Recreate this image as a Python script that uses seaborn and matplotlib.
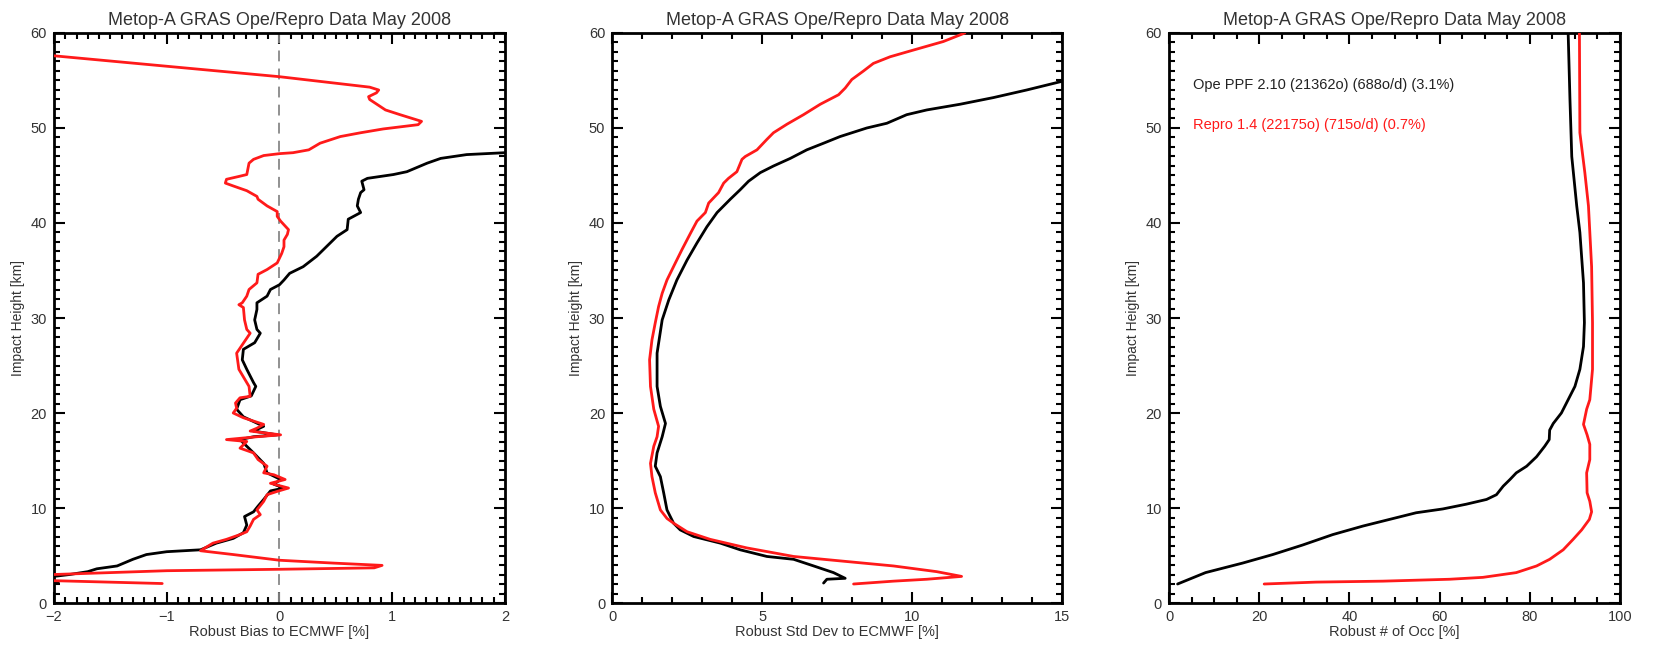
import numpy as np
import pandas as pd
import matplotlib
matplotlib.use("Agg")
import matplotlib.pyplot as plt
from matplotlib.ticker import MultipleLocator
import seaborn as sns

# ---------------- data ----------------
TITLE = "Metop-A GRAS Ope/Repro Data May 2008"
YLABEL = "Impact Height [km]"
XLABELS = ["Robust Bias to ECMWF [%]", "Robust Std Dev to ECMWF [%]", "Robust # of Occ [%]"]
LEGEND_OPE = "Ope PPF 2.10 (21362o) (688o/d) (3.1%)"
LEGEND_REPRO = "Repro 1.4 (22175o) (715o/d) (0.7%)"

# Panel 1: bias
bias_repro_x = [-2.0, 0.0, 0.80, 0.88, 0.86, 0.79, 0.80, 0.94, 1.07, 1.26, 1.23, 0.92, 0.72, 0.54, 0.36, 0.26, 0.12,
                0.0, -0.14, -0.23, -0.27, -0.29, -0.36, -0.47, -0.48, -0.41, -0.29, -0.20, -0.19, -0.11, -0.02,
                -0.02, 0.01, 0.08, 0.07, 0.04, 0.04, 0.02, -0.02, -0.11, -0.19, -0.20, -0.27, -0.29, -0.33, -0.36,
                -0.32, -0.31, -0.29,
                -0.26, -0.38, -0.36, -0.27, -0.26, -0.35, -0.39, -0.38, -0.41, -0.32, -0.14, -0.20, -0.26, 0.01,
                -0.20, -0.47, -0.29, -0.35, -0.23, -0.19, -0.11, -0.14, -0.05, 0.05, -0.08, 0.08, -0.02, -0.11,
                -0.14, -0.20, -0.17, -0.23, -0.26, -0.29, -0.35, -0.47, -0.59, -0.66, -0.70, -0.41, 0.0, 0.48,
                0.91, 0.84, 0.0, -1.0, -2.0, -2.6, -2.0, -1.04]
bias_repro_h = [57.6, 55.4, 54.3, 54.0, 53.7, 53.3, 53.0, 51.9, 51.4, 50.7, 50.35, 49.9, 49.5, 49.1, 48.4, 47.7, 47.4,
                47.3, 47.1, 46.7, 46.3, 45.1, 44.9, 44.6, 44.2, 43.9, 43.4, 42.8, 42.5, 41.8, 41.2,
                40.7, 40.2, 39.3, 38.8, 38.2, 37.5, 36.8, 35.8, 35.1, 34.6, 33.7, 33.0, 32.3, 31.6, 31.4,
                31.1, 29.8, 28.8,
                28.4, 26.3, 24.6, 22.8, 21.75, 21.6, 21.05, 20.5, 20.0, 19.5, 18.8, 18.4, 18.1, 17.7,
                17.5, 17.2, 17.0, 16.3, 15.8, 15.1, 14.4, 13.7, 13.5, 13.0, 12.6, 12.1, 11.75, 11.4,
                10.7, 9.8, 9.3, 8.8, 8.1, 7.5, 7.2, 6.7, 6.3, 5.8, 5.5, 5.1, 4.5, 4.2,
                3.96, 3.7, 3.55, 3.4, 3.0, 2.7, 2.35, 2.05]
bias_ope_x = [2.3, 2.0, 1.66, 1.43, 1.31, 1.13, 1.01, 0.78, 0.73, 0.75, 0.72, 0.70, 0.69, 0.72, 0.61, 0.60, 0.51,
              0.45, 0.33, 0.21, 0.09, 0.04, 0.0, -0.08, -0.11, -0.20, -0.20, -0.22, -0.20, -0.17, -0.22, -0.32,
              -0.33, -0.29, -0.23, -0.21, -0.25, -0.35, -0.38, -0.32, -0.14, -0.23, -0.02, -0.23, -0.35, -0.29,
              -0.23, -0.14, -0.11, 0.01, -0.05, 0.04, -0.08, -0.14, -0.19, -0.23, -0.31, -0.29, -0.32, -0.41,
              -0.56, -0.70, -1.0, -1.18, -1.30, -1.44, -1.62, -1.70, -1.86, -2.0, -2.4, -1.96]
bias_ope_h = [47.5, 47.4, 47.2, 46.8, 46.3, 45.4, 45.1, 44.7, 44.4, 43.5, 43.2, 42.5, 41.8, 41.1, 40.4, 39.3, 38.6,
              37.9, 36.5, 35.4, 34.7, 34.0, 33.5, 33.0, 32.3, 31.6, 30.9, 29.8, 28.8, 28.4, 27.4, 26.7,
              25.6, 24.6, 23.2, 22.8, 21.8, 21.4, 20.4, 19.6, 18.6, 18.1, 17.7, 17.5, 17.2, 16.5,
              15.8, 14.7, 13.7, 13.0, 12.5, 12.1, 11.8, 10.9, 10.2, 9.6, 9.1, 8.2, 7.4, 6.8,
              6.3, 5.6, 5.4, 5.1, 4.6, 3.9, 3.6, 3.3, 3.0, 2.8, 2.5, 2.1]

# Panel 2: standard deviation
std_repro_x = [11.76, 11.04, 10.04, 9.27, 8.71, 8.38, 7.99, 7.77, 7.55, 6.94, 6.38, 5.83, 5.38, 5.16, 4.83, 4.44,
               4.33, 4.16, 3.88, 3.72, 3.55, 3.22, 3.11, 2.83, 2.61, 2.33, 2.11, 1.83, 1.67, 1.55, 1.44,
               1.33, 1.25, 1.28, 1.39, 1.55, 1.50, 1.39, 1.28, 1.33, 1.44, 1.61, 1.83, 2.05, 2.50, 3.27, 4.49,
               6.05, 7.71, 9.38, 10.82, 11.65, 10.49, 9.38, 8.05]
std_repro_h = [60.0, 59.1, 58.2, 57.5, 56.8, 56.0, 55.1, 54.2, 53.5, 52.5, 51.4, 50.4, 49.5, 48.8, 47.7, 47.0,
               46.7, 45.4, 44.7, 44.2, 43.2, 42.1, 41.1, 40.2, 38.9, 37.2, 35.8, 34.0, 32.6, 31.2, 29.5,
               27.7, 25.6, 22.8, 20.4, 18.6, 17.5, 16.5, 14.7, 13.3, 11.6, 9.8, 8.9, 8.4, 7.5, 6.7, 5.8,
               4.9, 4.4, 3.9, 3.3, 2.8, 2.5, 2.3, 2.0]
std_ope_x = [15.5, 14.98, 13.82, 12.71, 11.60, 10.49, 9.82, 9.16, 8.49, 7.60, 7.05, 6.49, 5.94, 5.38, 4.94, 4.55,
             4.27, 3.94, 3.50, 3.16, 2.83, 2.50, 2.16, 1.89, 1.67, 1.50, 1.50, 1.61, 1.78, 1.67, 1.50, 1.44,
             1.61, 1.72, 1.83, 2.05, 2.27, 2.72, 3.61, 4.27, 5.16, 6.05, 6.72, 7.38, 7.77, 7.16, 7.05]
std_ope_h = [56.0, 54.9, 54.0, 53.2, 52.5, 51.9, 51.4, 50.5, 50.0, 49.1, 48.4, 47.7, 46.8, 46.0, 45.3, 44.4,
             43.5, 42.5, 41.1, 39.6, 37.9, 36.1, 34.0, 31.9, 29.8, 26.3, 22.8, 20.7, 18.9, 17.5, 15.8, 14.4,
             13.3, 11.6, 9.8, 8.4, 7.7, 7.0, 6.3, 5.6, 4.9, 4.6, 3.9, 3.2, 2.6, 2.5, 2.1]

# Panel 3: number of occultations
occ_ope_x = [88.5, 88.9, 89.3, 90.4, 91.1, 91.9, 92.1, 91.9, 91.1, 90.0, 88.5, 87.0, 85.2, 84.4, 84.3, 83.3,
             81.5, 79.3, 77.0, 75.6, 74.1, 72.6, 70.4, 65.9, 60.7, 54.8, 48.9, 43.0, 36.3, 29.6, 23.0, 16.3,
             8.1, 1.9]
occ_ope_h = [60.0, 53.0, 47.0, 41.8, 39.0, 33.7, 29.5, 27.0, 24.6, 22.8, 21.4, 20.0, 18.9, 18.2, 17.2, 16.5,
             15.4, 14.4, 13.7, 13.0, 12.3, 11.4, 10.9, 10.4, 9.9, 9.5, 8.8, 8.1, 7.2, 6.1, 5.1, 4.2,
             3.2, 2.0]
occ_repro_x = [91.0, 91.1, 92.2, 93.0, 93.7, 93.9, 93.9, 93.3, 92.6, 91.9, 92.7, 93.3, 93.3, 92.6, 92.7, 93.3,
               93.7, 93.2, 91.5, 89.6, 87.4, 84.4, 81.5, 77.0, 69.6, 62.2, 47.4, 32.6, 21.1]
occ_repro_h = [60.0, 49.5, 45.3, 41.8, 35.4, 29.5, 24.6, 21.4, 20.4, 18.8, 17.7, 16.7, 15.1, 13.7, 11.6, 10.7,
               9.6, 8.8, 7.7, 6.7, 5.6, 4.6, 3.9, 3.2, 2.7, 2.5, 2.3, 2.2, 2.0]

# ---------------- styling ----------------
sns.set_theme(style="white")
plt.rcParams["font.family"] = ["Liberation Sans", "DejaVu Sans"]
TXT = "#333333"
RED = "#ff1a1a"

fig = plt.figure(figsize=(16.76, 6.47), dpi=100)
positions = [[0.0322, 0.068, 0.2691, 0.881],
             [0.3652, 0.068, 0.2685, 0.881],
             [0.6975, 0.068, 0.2691, 0.881]]
panels = [
    (bias_ope_x, bias_ope_h, bias_repro_x, bias_repro_h, (-2, 2), 1, 0.1),
    (std_ope_x, std_ope_h, std_repro_x, std_repro_h, (0, 15), 5, 1),
    (occ_ope_x, occ_ope_h, occ_repro_x, occ_repro_h, (0, 100), 20, 5),
]

for i, (ox, oh, rx, rh, xlim, xmaj, xmin) in enumerate(panels):
    ax = fig.add_axes(positions[i])
    dfo = pd.DataFrame({"x": ox, "h": oh})
    dfr = pd.DataFrame({"x": rx, "h": rh})
    if i == 0:
        ax.axvline(0, color="#888888", lw=1.3, ls=(0, (6, 4)), zorder=1)
    sns.lineplot(data=dfr, x="x", y="h", sort=False, estimator=None, color=RED, lw=2.0, ax=ax, zorder=3)
    sns.lineplot(data=dfo, x="x", y="h", sort=False, estimator=None, color="black", lw=2.0, ax=ax, zorder=2)
    ax.set_xlim(*xlim)
    ax.set_ylim(0, 60)
    ax.xaxis.set_major_locator(MultipleLocator(xmaj))
    ax.xaxis.set_minor_locator(MultipleLocator(xmin))
    ax.yaxis.set_major_locator(MultipleLocator(10))
    ax.yaxis.set_minor_locator(MultipleLocator(1))
    ax.tick_params(which="both", direction="in", top=True, right=True, bottom=True, left=True,
                   colors="black", labelcolor=TXT, labelsize=10.5, width=1.5)
    ax.tick_params(which="major", length=8, pad=5)
    ax.tick_params(which="minor", length=4)
    for s in ax.spines.values():
        s.set_visible(True)
        s.set_color("black")
        s.set_linewidth(2.0)
    ax.set_title(TITLE, fontsize=13, color=TXT, pad=6)
    ax.set_xlabel(XLABELS[i], fontsize=10.5, color=TXT, labelpad=1)
    ax.set_ylabel(YLABEL, fontsize=10, color=TXT, labelpad=4)
    if i == 2:
        ax.text(5.3, 54.5, LEGEND_OPE, color="#222222", fontsize=10.5, va="center", ha="left")
        ax.text(5.3, 50.3, LEGEND_REPRO, color=RED, fontsize=10.5, va="center", ha="left")

fig.savefig("out.png", dpi=100)
